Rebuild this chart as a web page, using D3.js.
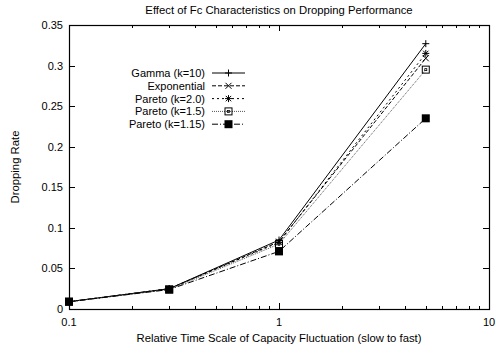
<!DOCTYPE html>
<html>
<head>
<meta charset="utf-8">
<script src="https://cdn.jsdelivr.net/npm/d3@7"></script>
<style>
  body { margin: 0; background: #fff; }
  svg text { font-family: "Liberation Sans", Arial, sans-serif; font-size: 11px; fill: #000; }
</style>
</head>
<body>
<div id="chart"></div>
<script>
// data
const timeScale = [0.1, 0.3, 1, 5];
const seriesNames = ['Gamma (k=10)', 'Exponential', 'Pareto (k=2.0)', 'Pareto (k=1.5)', 'Pareto (k=1.15)'];
const gamma = [0.009, 0.025, 0.085, 0.327];
const exponential = [0.009, 0.025, 0.083, 0.309];
const pareto20 = [0.009, 0.025, 0.082, 0.315];
const pareto15 = [0.009, 0.024, 0.080, 0.295];
const pareto115 = [0.009, 0.024, 0.071, 0.235];
const yTicks = [0, 0.05, 0.1, 0.15, 0.2, 0.25, 0.3, 0.35];
const xTicks = [0.1, 1, 10];

const W = 496, H = 354;
const margin = { top: 25, right: 7, bottom: 45, left: 69 };
const width = W - margin.left - margin.right;
const height = H - margin.top - margin.bottom;

const svg = d3.select('#chart').append('svg')
  .attr('width', W)
  .attr('height', H);

const g = svg.append('g')
  .attr('transform', `translate(${margin.left}, ${margin.top})`);

const xScale = d3.scaleLog().domain([0.1, 10]).range([0, width]);
const yScale = d3.scaleLinear().domain([0, 0.35]).range([height, 0]);

// minor log ticks
const minor = [];
[0.1, 1].forEach(d => { for (let k = 2; k <= 9; k++) minor.push(d * k); });

const tickG = g.append('g').attr('stroke', '#000').attr('stroke-width', 1);
xTicks.forEach(v => {
  const x = Math.round(xScale(v)) + 0.5;
  tickG.append('line').attr('x1', x).attr('x2', x).attr('y1', height).attr('y2', height - 6);
  tickG.append('line').attr('x1', x).attr('x2', x).attr('y1', 0).attr('y2', 6);
});
minor.forEach(v => {
  const x = Math.round(xScale(v)) + 0.5;
  tickG.append('line').attr('x1', x).attr('x2', x).attr('y1', height).attr('y2', height - 3);
  tickG.append('line').attr('x1', x).attr('x2', x).attr('y1', 0).attr('y2', 3);
});
yTicks.forEach(v => {
  const y = Math.round(yScale(v)) + 0.5;
  tickG.append('line').attr('x1', 0).attr('x2', 6).attr('y1', y).attr('y2', y);
  tickG.append('line').attr('x1', width).attr('x2', width - 6).attr('y1', y).attr('y2', y);
});

// frame
g.append('rect')
  .attr('x', 0.5).attr('y', 0.5)
  .attr('width', width).attr('height', height)
  .attr('fill', 'none').attr('stroke', '#000').attr('stroke-width', 1.2);

// tick labels
g.selectAll('text.ylab').data(yTicks).enter().append('text')
  .attr('class', 'ylab')
  .attr('x', -6)
  .attr('y', d => yScale(d) + 4)
  .attr('text-anchor', 'end')
  .text(d => d === 0 ? '0' : d3.format('')(d));

g.selectAll('text.xlab').data(xTicks).enter().append('text')
  .attr('class', 'xlab')
  .attr('x', d => xScale(d))
  .attr('y', height + 17)
  .attr('text-anchor', 'middle')
  .text(d => d);

// titles
svg.append('text')
  .attr('x', margin.left + width / 2).attr('y', 14)
  .attr('text-anchor', 'middle')
  .style('font-size', '11.3px')
  .text('Effect of Fc Characteristics on Dropping Performance');

svg.append('text')
  .attr('x', margin.left + width / 2).attr('y', 342)
  .attr('text-anchor', 'middle')
  .style('font-size', '11.3px')
  .text('Relative Time Scale of Capacity Fluctuation (slow to fast)');

svg.append('text')
  .attr('transform', `translate(19, ${margin.top + height / 2}) rotate(-90)`)
  .attr('text-anchor', 'middle')
  .style('font-size', '11.3px')
  .text('Dropping Rate');

// series
const series = [gamma, exponential, pareto20, pareto15, pareto115];
const dashes = [null, '4,2', '2,3', '1,1', '6,2,1,2'];
const strokes = ['#000', '#000', '#000', '#555', '#000'];
const line = d3.line()
  .x((d, i) => xScale(timeScale[i]))
  .y(d => yScale(d));

function marker(sel, type, x, y) {
  const m = sel.append('g').attr('transform', `translate(${x}, ${y})`)
    .attr('stroke', '#000').attr('stroke-width', 1).attr('fill', 'none');
  const s = 3.5;
  if (type === 0) {
    m.append('path').attr('d', `M${-s},0H${s}M0,${-s}V${s}`);
  } else if (type === 1) {
    m.append('path').attr('d', `M${-s + 0.5},${-s + 0.5}L${s - 0.5},${s - 0.5}M${-s + 0.5},${s - 0.5}L${s - 0.5},${-s + 0.5}`);
  } else if (type === 2) {
    m.append('path').attr('d', `M${-s},0H${s}M0,${-s}V${s}M${-s + 0.8},${-s + 0.8}L${s - 0.8},${s - 0.8}M${-s + 0.8},${s - 0.8}L${s - 0.8},${-s + 0.8}`);
  } else if (type === 3) {
    m.append('rect').attr('x', -3.5).attr('y', -3.5).attr('width', 7).attr('height', 7);
    m.append('rect').attr('x', -1).attr('y', -1).attr('width', 2).attr('height', 2).attr('stroke-width', 0.8);
  } else {
    m.append('rect').attr('x', -4).attr('y', -4).attr('width', 8).attr('height', 8)
      .attr('fill', '#000').attr('stroke', 'none');
  }
}

series.forEach((vals, si) => {
  g.append('path')
    .datum(vals)
    .attr('d', line)
    .attr('fill', 'none')
    .attr('stroke', strokes[si])
    .attr('stroke-width', 1)
    .attr('stroke-dasharray', dashes[si]);
  vals.forEach((v, i) => marker(g, si, xScale(timeScale[i]), yScale(v)));
});

// legend, point drawn in the middle of the sample like gnuplot does
const legend = svg.append('g');
seriesNames.forEach((name, si) => {
  const y = 73 + si * 12.8;
  legend.append('text')
    .attr('x', 205).attr('y', y + 4)
    .attr('text-anchor', 'end')
    .text(name);
  legend.append('line')
    .attr('x1', 212).attr('x2', 245).attr('y1', y).attr('y2', y)
    .attr('stroke', strokes[si]).attr('stroke-width', 1)
    .attr('stroke-dasharray', dashes[si]);
  marker(legend, si, 228.5, y);
});
</script>
</body>
</html>
